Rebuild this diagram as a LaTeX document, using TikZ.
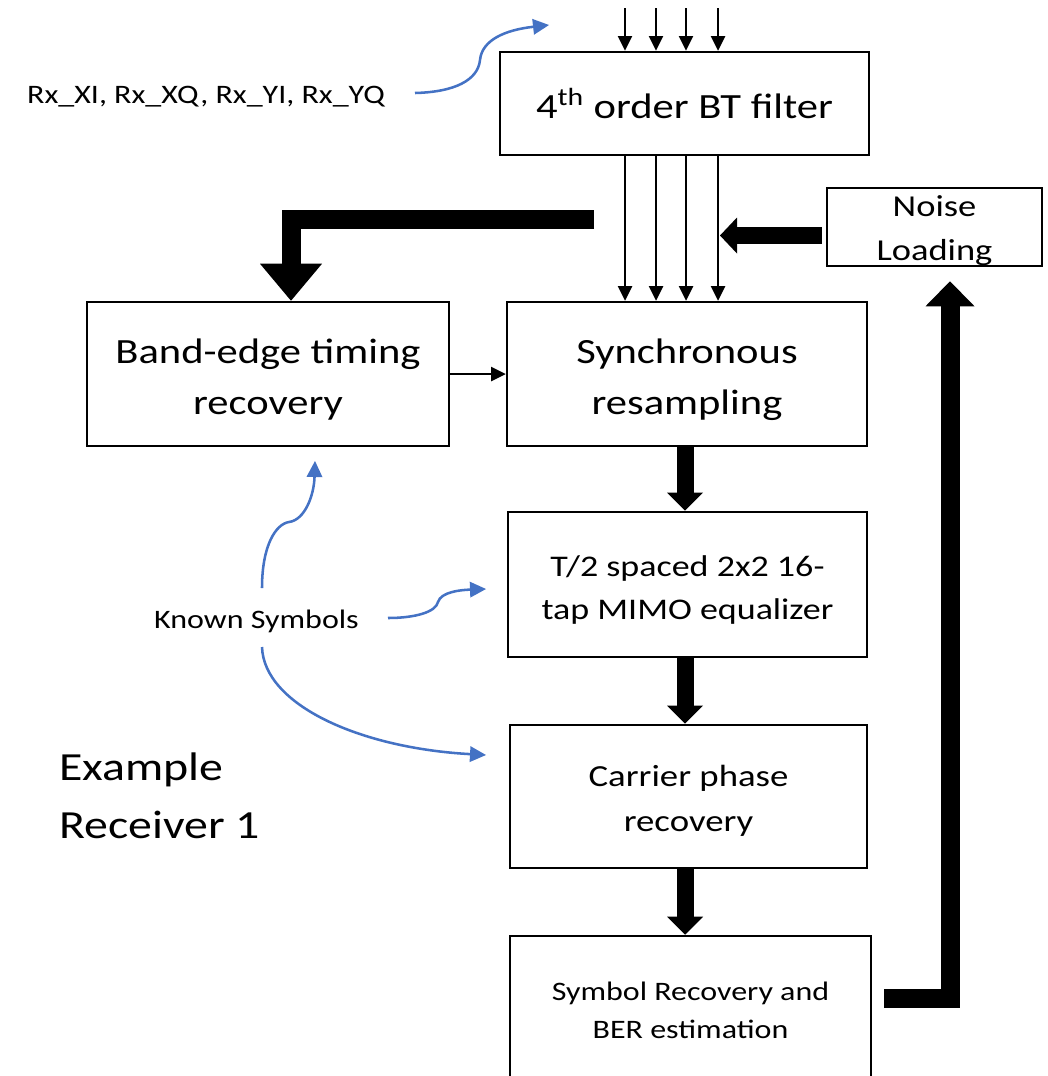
\documentclass[tikz,border=0pt]{standalone}
\usepackage{fontspec}
\setmainfont{Carlito}[FakeStretch=1.2]
\usetikzlibrary{arrows.meta}
\definecolor{linkblue}{RGB}{68,114,196}

% text sizes used in the diagram
\newcommand\fBig{\fontsize{26.6pt}{38.3pt}\selectfont}
\newcommand\fNoise{\fontsize{22.8pt}{32.3pt}\selectfont}
\newcommand\fEq{\fontsize{22.5pt}{32.3pt}\selectfont}
\newcommand\fCpr{\fontsize{23pt}{33.8pt}\selectfont}
\newcommand\fSym{\fontsize{20pt}{28.5pt}\selectfont}
\newcommand\fNote{\fontsize{20pt}{24pt}\selectfont}
\newcommand\fTitle{\fontsize{29.9pt}{43.5pt}\selectfont}

% two centred lines whose last baseline sits #1 above the block centre
\newcommand\twoline[3]{\raisebox{#1}[0pt][0pt]{\begin{tabular}[b]{@{}c@{}}#2\\#3\end{tabular}}}

\tikzset{
  blk/.style={draw, line width=1.9pt, inner sep=0pt},
  sig/.style={line width=1.5pt, -{Triangle[width=11pt,length=11pt,line width=0pt]}},
  hint/.style={linkblue, line width=1.9pt, -{Triangle[width=12pt,length=12pt,line width=0pt]}},
  fat/.style n args={3}{line width=#1, -{Triangle[width=#2,length=#3,line width=0pt]}},
  txt/.style={inner sep=0pt}
}

\begin{document}
\begin{tikzpicture}[x=0.75pt,y=-0.75pt]
\useasboundingbox (0,0) rectangle (1048,1076);

% processing blocks
\node[blk, minimum width=276.75pt, minimum height=77.25pt, font=\fBig] (bt) at (684.5,103.5) {4\textsuperscript{th} order BT filter};
\node[blk, minimum width=161.25pt, minimum height=58.5pt, font=\fNoise] (noise) at (934.5,227) {\twoline{-24.75pt}{Noise}{Loading}};
\node[blk, minimum width=271.5pt, minimum height=108pt, font=\fBig] (band) at (268,374) {\twoline{-30.4pt}{Band-edge timing}{recovery}};
\node[blk, minimum width=270pt, minimum height=108pt, font=\fBig] (sync) at (687,374) {\twoline{-30.4pt}{Synchronous}{resampling}};
\node[blk, minimum width=269.25pt, minimum height=108.75pt, font=\fEq] (eq) at (687.5,584.5) {\twoline{-26.25pt}{T/2 spaced 2x2 16-}{tap MIMO equalizer}};
\node[blk, minimum width=267.75pt, minimum height=107.25pt, font=\fCpr] (cpr) at (688.5,796.5) {\twoline{-26.4pt}{Carrier phase}{recovery}};
\node[blk, minimum width=270.75pt, minimum height=109.5pt, font=\fSym] (sym) at (690.5,1009) {\twoline{-21.75pt}{Symbol Recovery and}{BER estimation}};

% free labels
\node[txt, font=\fNote, anchor=base] (rx) at (206,103) {Rx\_XI, Rx\_XQ, Rx\_YI, Rx\_YQ};
\node[txt, font=\fNote, anchor=base] (known) at (256.5,628) {Known Symbols};
\node[txt, font=\fTitle, anchor=west, align=left] (title) at (59,796) {Example\\Receiver 1};

% four signal lanes into and out of the filter
\foreach \x [count=\i] in {625,656,686,718} {
  \coordinate (in\i) at (\x,8);
  \draw[sig] (in\i) -- (in\i |- bt.north);
  \draw[sig] (in\i |- bt.south) -- (in\i |- sync.north);
}
\draw[sig] (band.east) -- (sync.west);

% wide data-path arrows
\coordinate (tap) at (594,219.5);
\coordinate (merge) at (720,235.5);
\coordinate (col) at (685,0);
\draw[fat={14.25pt}{46.5pt}{27.75pt}] (tap) -| ([shift={(23,0)}]band.north);
\draw[fat={12.75pt}{27pt}{12.75pt}] ([shift={(-4,8.5)}]noise.west) -- (merge);
\draw[fat={12.75pt}{27pt}{13.5pt}] (col |- sync.south) -- (col |- eq.north);
\draw[fat={12.75pt}{27pt}{13.5pt}] (col |- eq.south) -- (col |- cpr.north);
\draw[fat={12.75pt}{27pt}{13.5pt}] (col |- cpr.south) -- (col |- sym.north);
\draw[fat={14.25pt}{36.75pt}{18.75pt}] ([shift={(12,-10.5)}]sym.east) -| ([shift={(15.5,14)}]noise.south);

% curved hints from the labels
\coordinate (rxtail) at (415,93);
\coordinate (rxtip) at (549,25);
\coordinate (kstop) at (262,588);
\coordinate (ksmid) at (388,618);
\coordinate (ksbot) at (262,647);
\coordinate (tipband) at (315,461);
\coordinate (tipeq) at (486,589);
\coordinate (tipcpr) at (486,755);
\draw[hint] (rxtail) .. controls (455,92) and (478,80) .. (480,60) .. controls (482,40) and (505,30) .. (rxtip);
\draw[hint] (kstop) .. controls (262,545) and (276,524) .. (289,522) .. controls (305,520) and (314,495) .. (tipband);
\draw[hint] (ksmid) .. controls (415,618) and (436,612) .. (438,602) .. controls (441,592) and (460,590) .. (tipeq);
\draw[hint] (ksbot) .. controls (264,705) and (360,748) .. (tipcpr);
\end{tikzpicture}
\end{document}
